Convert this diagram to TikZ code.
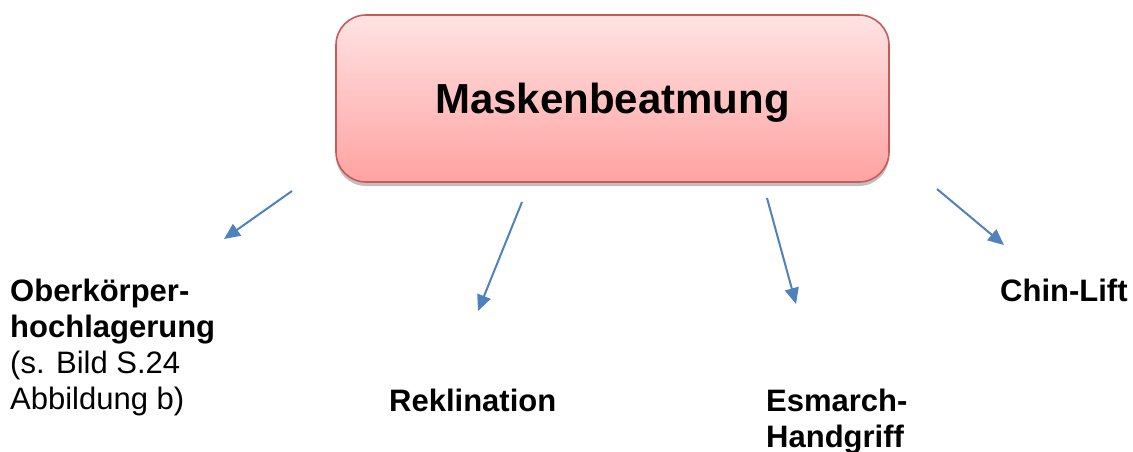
\documentclass[tikz,border=0pt]{standalone}
\usepackage{fontspec}
\setmainfont{Liberation Sans}
\usetikzlibrary{arrows.meta,shadows}
\definecolor{PfeilBlau}{HTML}{4F81BD}
\definecolor{RandRot}{HTML}{C85A57}
\definecolor{RosaOben}{HTML}{FFE3E3}
\definecolor{RosaUnten}{HTML}{FFA2A2}
\tikzset{
  haupt/.style={draw=RandRot,line width=1.6pt,rounded corners=30pt,
    top color=RosaOben,bottom color=RosaUnten,
    minimum width=553pt,minimum height=167pt,text depth=0pt,
    font=\fontsize{42}{50}\selectfont\bfseries,
    drop shadow={shadow xshift=0pt,shadow yshift=-4pt,opacity=0.25,fill=black}},
  massnahme/.style={anchor=base west,align=left,inner sep=0pt,
    font=\fontsize{31}{36}\selectfont},
  pfeil/.style={draw=PfeilBlau,line width=2pt,
    -{Triangle[length=16pt,width=14pt]}}
}
\begin{document}
\begin{tikzpicture}[x=1pt,y=-1pt]
  \useasboundingbox (0,0) rectangle (1133,451);
  \node[haupt] (maske) at (612.5,98.5) {Maskenbeatmung};

  % base = Grundlinie der letzten Zeile
  \node[massnahme] (oberkoerper) at (10,409)
    {\textbf{Oberkörper-}\\\textbf{hochlagerung}\\(s. Bild S.24\\Abbildung b)};
  \node[massnahme] (reklination) at (389,411) {\textbf{Reklination}};
  \node[massnahme] (esmarch) at (766,447) {\textbf{Esmarch-}\\\textbf{Handgriff}};
  \node[massnahme] (chinlift) at (1000,301) {\textbf{Chin-Lift}};

  \foreach \i/\sx/\sy/\ex/\ey in {
    1/292/191/224/239,
    2/522/202/478/311,
    3/767/198/796/304,
    4/937/189/1004/245}
  {
    \coordinate (von\i) at (\sx,\sy);
    \coordinate (nach\i) at (\ex,\ey);
    \draw[pfeil] (von\i) -- (nach\i);
  }
\end{tikzpicture}
\end{document}
